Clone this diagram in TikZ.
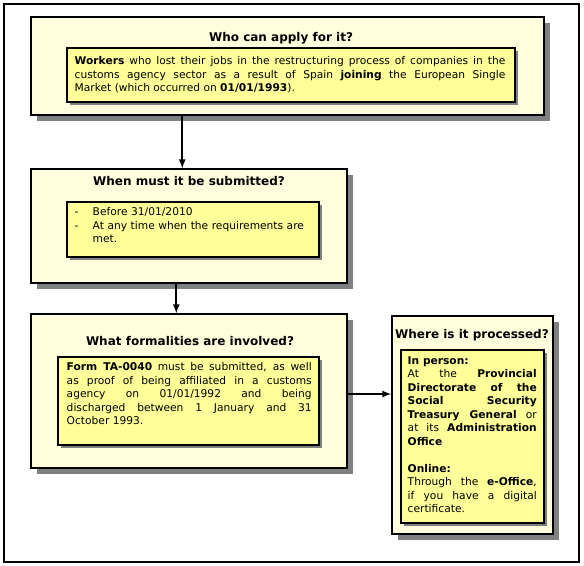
\documentclass[tikz,border=0pt]{standalone}
\usepackage{fontspec}
\setmainfont{DejaVu Sans}
\usetikzlibrary{arrows,positioning,shadows,fit,calc}
\definecolor{paleyellow}{RGB}{255,255,221}
\definecolor{lemon}{RGB}{255,255,153}
\definecolor{shadowgray}{RGB}{128,128,128}
\newcommand{\hl}[1]{\textbf{#1}}

\begin{document}
\begin{tikzpicture}[x=0.75pt, y=-0.75pt,
    font=\fontsize{8}{10.1}\selectfont,
    outerbox/.style={draw, fill=paleyellow, line width=1.1pt, inner sep=0pt,
      drop shadow={shadow xshift=4.5pt, shadow yshift=-4.5pt, fill=shadowgray, opacity=1}},
    innerbox/.style={draw, fill=lemon, line width=0.8pt, inner sep=0pt,
      drop shadow={shadow xshift=2pt, shadow yshift=-2pt, fill=shadowgray, opacity=1}},
    boxtitle/.style={font=\fontsize{9}{11}\selectfont\bfseries, anchor=base, inner sep=0pt},
    bodytext/.style={anchor=north west, inner sep=0pt, align=justify},
    flow/.style={draw, line width=1.3pt, -latex}]
  \useasboundingbox (0,0) rectangle (584,566);
  \draw[line width=1.1pt] (4,4) rectangle (579,562);
  %boxes
  \node[outerbox, fit={(31,17)(544,115)}] (who) {};
  \node[outerbox, fit={(31,169)(347,283)}] (when) {};
  \node[outerbox, fit={(31,314)(347,468)}] (what) {};
  \node[outerbox, fit={(392,316)(553,534)}] (where) {};
  \node[innerbox, fit={(67,48)(515,102)}] (whobox) {};
  \node[innerbox, fit={(67,202)(319,257)}] (whenbox) {};
  \node[innerbox, fit={(58,357)(319,445)}] (whatbox) {};
  \node[innerbox, fit={(401,350)(544,523)}] (wherebox) {};
  %titles
  \node[boxtitle] (whotitle) at (281,42) {Who can apply for it?};
  \node[boxtitle] (whentitle) at (189,186) {When must it be submitted?};
  \node[boxtitle] (whattitle) at (190,345) {What formalities are involved?};
  \node[boxtitle] (wheretitle) at (472,338) {Where is it processed?};
  %texts
  \node[bodytext, text width=323pt] (whotext) at ($(whobox.north west)+(8,9)$)
    {\hl{Workers} who lost their jobs in the restructuring process of companies in the\linebreak
     customs agency sector as a result of Spain \hl{joining} the European Single\linebreak
     Market (which occurred on \hl{01/01/1993}).};
  \node[bodytext, align=left, text width=178pt] (whentext) at ($(whenbox.north west)+(8,6)$)
    {\makebox[13.5pt][l]{-}Before 31/01/2010\\
     \makebox[13.5pt][l]{-}At any time when the requirements are\\
     \hspace*{13.5pt}met.};
  \node[bodytext, text width=183.75pt] (whattext) at ($(whatbox.north west)+(9,6)$)
    {\hl{Form TA-0040} must be submitted, as well\linebreak
     as proof of being affiliated in a customs\linebreak
     agency on 01/01/1992 and being\linebreak
     discharged between 1 January and 31\linebreak
     October 1993.};
  \node[bodytext, text width=96.75pt] (wheretext) at ($(wherebox.north west)+(7,7)$)
    {\hl{In person:}\\
     At the \hl{Provincial}\linebreak
     \hl{Directorate of the}\linebreak
     \hl{Social Security}\linebreak
     \hl{Treasury General} or\linebreak
     at its \hl{Administration}\linebreak
     \hl{Office}\\[10.1pt]
     \hl{Online:}\\
     Through the \hl{e-Office},\linebreak
     if you have a digital\linebreak
     certificate.};
  %edges
  \coordinate (link) at ($(what.east)+(0,3)$);
  \path[flow] ($(who.south west)+(152,0)$) -- ($(when.north west)+(152,0)$);
  \path[flow] ($(when.south west)+(146,0)$) -- ($(what.north west)+(146,0)$);
  \path[flow] (link) -- (link -| where.west);
\end{tikzpicture}
\end{document}
